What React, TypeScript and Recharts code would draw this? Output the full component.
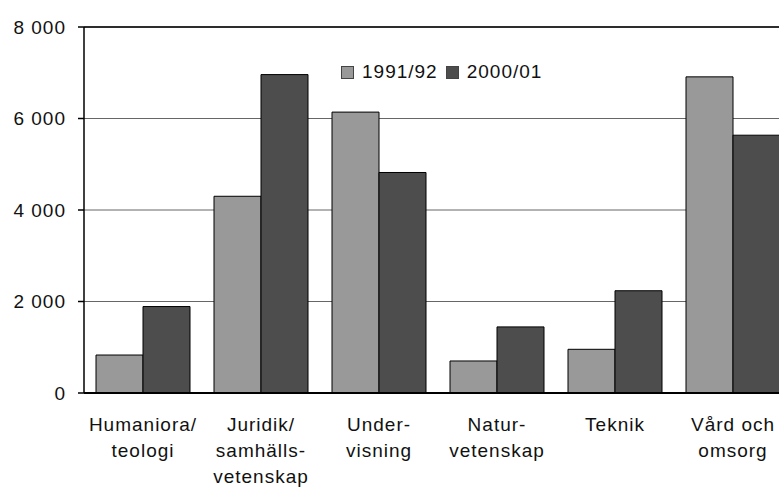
import { BarChart, Bar, XAxis, YAxis, CartesianGrid, Legend, ReferenceLine } from 'recharts';

const CATEGORIES = [
  'Humaniora/\nteologi',
  'Juridik/\nsamhälls-\nvetenskap',
  'Under-\nvisning',
  'Natur-\nvetenskap',
  'Teknik',
  'Vård och\nomsorg',
];
const Y1991 = [830, 4300, 6140, 700, 955, 6910];
const Y2000 = [1890, 6960, 4820, 1445, 2235, 5635];
const Y_TICKS = [0, 2000, 4000, 6000, 8000];
const SERIES = [
  { key: 'y1991', name: '1991/92', color: '#999999' },
  { key: 'y2000', name: '2000/01', color: '#4d4d4d' },
];

const data = CATEGORIES.map((c, i) => ({ cat: c, y1991: Y1991[i], y2000: Y2000[i] }));

const FONT = '"Liberation Sans", Arial, sans-serif';

const fmt = (v: number) => (v >= 1000 ? `${Math.floor(v / 1000)} ${String(v % 1000).padStart(3, '0')}` : String(v));

function CatTick(props: any) {
  const { x, y, payload } = props;
  const lines = String(payload.value).split('\n');
  return (
    <text x={x} y={y + 38} textAnchor="middle" fontFamily={FONT} fontSize={19} letterSpacing={1} fill="#111">
      {lines.map((l, i) => (
        <tspan key={i} x={x} dy={i === 0 ? 0 : 26}>{l}</tspan>
      ))}
    </text>
  );
}

function LegendBox() {
  return (
    <div style={{ display: 'flex', alignItems: 'center', fontFamily: FONT, fontSize: 19, letterSpacing: 1, color: '#111' }}>
      {SERIES.map((s) => (
        <div key={s.key} style={{ display: 'flex', alignItems: 'center', marginRight: 8 }}>
          <span style={{ width: 11, height: 11, background: s.color, border: '1px solid #444', marginRight: 8, display: 'inline-block' }} />
          <span>{s.name}</span>
        </div>
      ))}
    </div>
  );
}

export default function App() {
  return (
    <div style={{ position: 'absolute', left: 0, top: 0, width: 779, height: 494, overflow: 'hidden', background: '#fff' }}>
      <BarChart
        width={792}
        height={494}
        data={data}
        margin={{ top: 27, right: 0, left: 0, bottom: 0 }}
        barCategoryGap={12}
        barGap={0}
      >
        <CartesianGrid horizontal vertical={false} stroke="#666" strokeWidth={1} />
        <XAxis
          dataKey="cat"
          height={101}
          tickSize={0}
          tickMargin={0}
          tickLine={false}
          axisLine={{ stroke: '#000', strokeWidth: 2 }}
          tick={<CatTick />}
          interval={0}
        />
        <YAxis
          width={84}
          domain={[0, 8000]}
          ticks={Y_TICKS}
          tickFormatter={fmt}
          tickSize={6}
          tickMargin={12}
          axisLine={{ stroke: '#000', strokeWidth: 1.5 }}
          tickLine={{ stroke: '#000', strokeWidth: 1.5 }}
          tick={{ fontFamily: FONT, fontSize: 19, letterSpacing: 1, fill: '#111' }}
          allowDataOverflow
        />
        <ReferenceLine y={8000} stroke="#000" strokeWidth={1.5} />
        <Legend
          content={<LegendBox />}
          layout="horizontal"
          verticalAlign="middle"
          align="center"
          wrapperStyle={{ position: 'absolute', left: 341, top: 61, width: 260 }}
        />
        {SERIES.map((s) => (
          <Bar key={s.key} dataKey={s.key} name={s.name} fill={s.color} stroke="#000" strokeWidth={1} isAnimationActive={false} />
        ))}
      </BarChart>
    </div>
  );
}
